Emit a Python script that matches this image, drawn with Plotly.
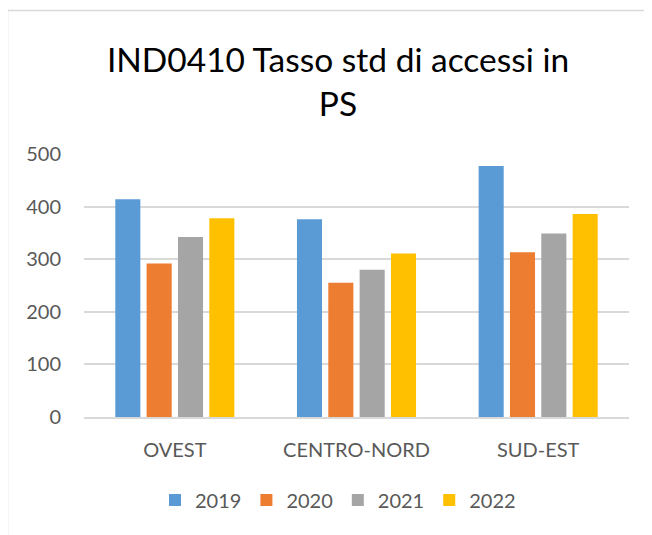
import plotly.graph_objects as go

# Dati
aree = ['OVEST', 'CENTRO-NORD', 'SUD-EST']
anni = ['2019', '2020', '2021', '2022']
valori_2019 = [414, 376, 477]
valori_2020 = [292, 255, 313]
valori_2021 = [342, 280, 349]
valori_2022 = [378, 311, 386]
colori = ['#5B9BD5', '#ED7D31', '#A5A5A5', '#FFC000']

# la pagina ha 8px di margine nel body: compenso
OFF = 8
W, H = 652 - OFF, 535 - OFF
ML, MR, MT, MB = 84 - OFF, 23, 154 - OFF, 118
pw = W - ML - MR
ph = H - MT - MB

fig = go.Figure()
for anno, valori, colore in zip(anni, [valori_2019, valori_2020, valori_2021, valori_2022], colori):
    fig.add_trace(go.Bar(x=aree, y=valori, name=anno, marker_color=colore,
                         marker_line_width=0))

# coordinate in pixel della finestra -> paper
def px_x(v):
    return (v - OFF - ML) / pw

def px_y(v):
    return (H - MB - (v - OFF)) / ph

# bordo del riquadro del grafico (stile Excel)
fig.add_shape(type='rect', xref='paper', yref='paper',
              x0=px_x(7.5), x1=px_x(720), y0=px_y(10.5), y1=px_y(600),
              line=dict(color='#D9D9D9', width=1.5), fillcolor='rgba(0,0,0,0)', layer='below')

fig.update_layout(
    width=W, height=H,
    margin=dict(l=ML, r=MR, t=MT, b=MB),
    paper_bgcolor='white', plot_bgcolor='white',
    font=dict(family='Lato', color='#595959', size=19),
    title=dict(text='IND0410 Tasso std di accessi in<br>PS', x=px_x(338), xref='paper',
               xanchor='center', y=1 - (72 - OFF) / H, yanchor='top', yref='container',
               font=dict(size=33.5, color='#000000', family='Lato')),
    barmode='group', bargap=0.31, bargroupgap=0.2,
    showlegend=True,
    legend=dict(orientation='h', x=px_x(338), xanchor='center', y=px_y(500), yanchor='middle',
                font=dict(size=20, color='#595959'), traceorder='normal'),
)
fig.update_yaxes(range=[0, 500], dtick=100, showgrid=True, gridcolor='#D9D9D9', gridwidth=1.5,
                 zeroline=False, showline=False, ticks='', ticklabelstandoff=22,
                 tickfont=dict(size=20))
fig.update_xaxes(showline=True, linecolor='#D9D9D9', linewidth=1.5, ticks='',
                 ticklabelstandoff=14, tickfont=dict(size=20))

fig.write_html('out.html')
